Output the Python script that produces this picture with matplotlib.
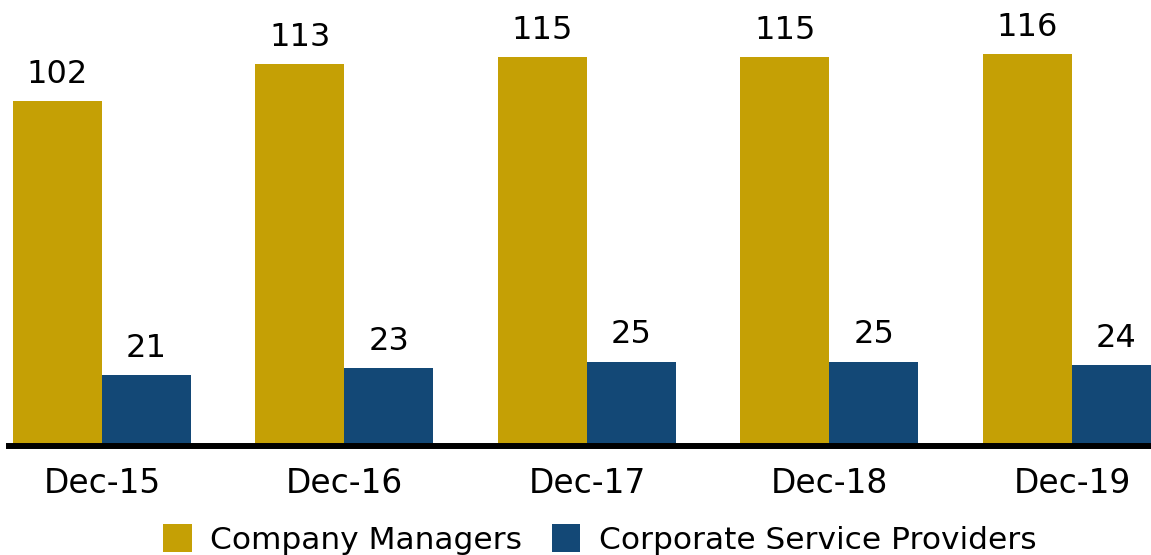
import matplotlib
matplotlib.use("Agg")
import matplotlib.pyplot as plt
import numpy as np

categories = ["Dec-15", "Dec-16", "Dec-17", "Dec-18", "Dec-19"]
company_managers = [102, 113, 115, 115, 116]
corporate_service_providers = [21, 23, 25, 25, 24]
series_names = ["Company Managers", "Corporate Service Providers"]
colors = ["#C5A005", "#134876"]

W, H = 1151, 555
fig = plt.figure(figsize=(W / 100, H / 100), dpi=100)
ax_left, ax_right = 9 / W, 1.0
ax_bottom = 1 - 446 / H
ax = fig.add_axes([ax_left, ax_bottom, ax_right - ax_left, 1 - ax_bottom])

x = np.arange(len(categories))
bw = 0.367
fs = 23
b1 = ax.bar(x - bw / 2, company_managers, bw, color=colors[0], label=series_names[0], zorder=2)
b2 = ax.bar(x + bw / 2, corporate_service_providers, bw, color=colors[1], label=series_names[1], zorder=2)
for bars, vals in ((b1, company_managers), (b2, corporate_service_providers)):
    for rect, v in zip(bars, vals):
        ax.annotate(str(v), (rect.get_x() + rect.get_width() / 2, v), xytext=(0, 8),
                    textcoords="offset points", ha="center", va="bottom", fontsize=fs, color="black")

ax.set_xlim(-0.3835, 4.326)
ax.set_ylim(0, 132)
ax.set_xticks(x)
ax.set_xticklabels(categories, fontsize=23.7)
ax.tick_params(axis="x", length=0, pad=15)
ax.set_yticks([])
for s in ["top", "right", "left"]:
    ax.spines[s].set_visible(False)
ax.spines["bottom"].set_linewidth(4.3)
ax.spines["bottom"].set_color("black")
ax.spines["bottom"].set_zorder(3)

fig.legend(handles=[b1, b2], labels=series_names, loc="lower center", bbox_to_anchor=(600 / W, -0.022),
           ncol=2, frameon=False, fontsize=22.5, handlelength=0.9, handleheight=1.0,
           handletextpad=0.6, columnspacing=0.95, borderaxespad=0)

fig.savefig("out.png", dpi=100)
